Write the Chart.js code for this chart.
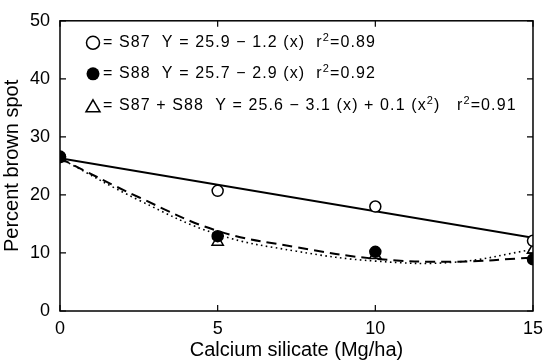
<!DOCTYPE html>
<html>
<head>
<meta charset="utf-8">
<script src="https://cdn.jsdelivr.net/npm/chart.js@4"></script>
<style>
  body { margin: 0; background: #fff; }
  #wrap { width: 550px; height: 364px; }
</style>
</head>
<body>
<div id="wrap"><canvas id="chart"></canvas></div>
<script>
// observed points
const xLevels = [0, 5, 10, 15];
const s87 = [26.5, 20.7, 18.0, 12.1];
const s88 = [26.6, 12.9, 10.2, 8.9];
const pooled = [26.3, 11.9, 9.6, 10.5];

// fitted curves
const s87FitX = [0, 15];
const s87Fit = [26.3, 12.6];
const curveX = [0, 2.5, 5, 7.5, 10, 12.5, 15];
const s88Fit = [26.3, 19.6, 13.8, 11.0, 9.0, 8.5, 9.2];
const pooledFit = [26.3, 19.1, 13.2, 10.3, 8.6, 8.4, 10.6];

const yTicks = [0, 10, 20, 30, 40, 50];
const xTicks = [0, 5, 10, 15];

const legendLines = [
    { sym: 'open', text: '= S87  Y = 25.9 \u2212 1.2 (x)  r', sup: '2', rest: '=0.89' },
    { sym: 'filled', text: '= S88  Y = 25.7 \u2212 2.9 (x)  r', sup: '2', rest: '=0.92' },
    { sym: 'tri', text: '= S87 + S88  Y = 25.6 \u2212 3.1 (x) + 0.1 (x', sup: '2', rest: ')   r', sup2: '2', rest2: '=0.91' }
];

const FONT = '"Liberation Sans", Arial, sans-serif';

const toXY = (xs, ys) => xs.map((x, i) => ({ x: x, y: ys[i] }));

// frame + inward ticks
const framePlugin = {
    id: 'frame',
    afterDatasetsDraw(chart) {
        const { ctx, chartArea: a, scales } = chart;
        ctx.save();
        ctx.strokeStyle = '#000';
        ctx.lineWidth = 1.5;
        ctx.strokeRect(a.left, a.top, a.right - a.left, a.bottom - a.top);
        ctx.lineWidth = 1.2;
        const t = 6;
        yTicks.forEach(v => {
            const y = scales.y.getPixelForValue(v);
            ctx.beginPath();
            ctx.moveTo(a.left, y); ctx.lineTo(a.left + t, y);
            ctx.moveTo(a.right, y); ctx.lineTo(a.right - t, y);
            ctx.stroke();
        });
        xTicks.forEach(v => {
            const x = scales.x.getPixelForValue(v);
            ctx.beginPath();
            ctx.moveTo(x, a.bottom); ctx.lineTo(x, a.bottom - t);
            ctx.moveTo(x, a.top); ctx.lineTo(x, a.top + t);
            ctx.stroke();
        });
        ctx.restore();
    }
};

const legendPlugin = {
    id: 'eqLegend',
    afterDraw(chart) {
        const { ctx, chartArea: a } = chart;
        ctx.save();
        ctx.fillStyle = '#000';
        ctx.strokeStyle = '#000';
        ctx.textBaseline = 'middle';
        ctx.letterSpacing = '1.1px';
        const sx = a.left + 33;
        const rows = [a.top + 22, a.top + 53, a.top + 85];
        legendLines.forEach((ln, i) => {
            const y = rows[i];
            ctx.lineWidth = 1.5;
            ctx.beginPath();
            if (ln.sym === 'tri') {
                ctx.moveTo(sx, y - 6); ctx.lineTo(sx + 7, y + 6); ctx.lineTo(sx - 7, y + 6); ctx.closePath();
                ctx.stroke();
            } else {
                ctx.arc(sx, y, 6.5, 0, Math.PI * 2);
                if (ln.sym === 'filled') ctx.fill(); else ctx.stroke();
            }
            let x = sx + 10;
            const big = '16px ' + FONT, small = '11px ' + FONT;
            const put = (s, f, dy) => {
                ctx.font = f;
                ctx.fillText(s, x, y + dy);
                x += ctx.measureText(s).width;
            };
            put(ln.text, big, 0);
            put(ln.sup, small, -5);
            put(ln.rest, big, 0);
            if (ln.sup2) {
                put(ln.sup2, small, -5);
                put(ln.rest2, big, 0);
            }
        });
        ctx.restore();
    }
};

new Chart(document.getElementById('chart'), {
    type: 'scatter',
    data: {
        datasets: [
            {
                label: 'S88',
                data: toXY(xLevels, s88),
                pointStyle: 'circle', pointRadius: 5.5,
                backgroundColor: '#000', borderColor: '#000', borderWidth: 1.5,
                order: 1
            },
            {
                label: 'S87',
                data: toXY(xLevels, s87),
                pointStyle: 'circle', pointRadius: 5.5,
                backgroundColor: '#fff', borderColor: '#000', borderWidth: 1.5,
                order: 2
            },
            {
                label: 'S87 + S88',
                data: toXY(xLevels, pooled),
                pointStyle: 'triangle', pointRadius: 6.5,
                backgroundColor: '#fff', borderColor: '#000', borderWidth: 1.5,
                order: 3
            },
            {
                label: 'S87 fit',
                type: 'line',
                data: toXY(s87FitX, s87Fit),
                borderColor: '#000', borderWidth: 2, pointRadius: 0,
                order: 4
            },
            {
                label: 'S88 fit',
                type: 'line',
                data: toXY(curveX, s88Fit),
                borderColor: '#000', borderWidth: 2, borderDash: [10, 6],
                pointRadius: 0, tension: 0.4,
                order: 5
            },
            {
                label: 'pooled fit',
                type: 'line',
                data: toXY(curveX, pooledFit),
                borderColor: '#000', borderWidth: 1.6, borderDash: [1.6, 3.4],
                pointRadius: 0, tension: 0.4,
                order: 6
            }
        ]
    },
    options: {
        responsive: true,
        maintainAspectRatio: false,
        animation: false,
        layout: { padding: { left: 0, right: 12, top: 11, bottom: 0 } },
        plugins: { legend: { display: false }, tooltip: { enabled: false } },
        scales: {
            x: {
                type: 'linear', min: 0, max: 15,
                afterFit: s => { s.height = 53; },
                afterBuildTicks: s => { s.ticks = xTicks.map(v => ({ value: v })); },
                grid: { display: false, drawTicks: false },
                border: { display: false },
                ticks: { color: '#000', font: { family: FONT, size: 18 }, padding: 7, maxRotation: 0 },
                title: {
                    display: true, text: 'Calcium silicate (Mg/ha)', color: '#000',
                    font: { family: FONT, size: 20 }, padding: { top: 0, bottom: 2 }
                }
            },
            y: {
                min: 0, max: 50,
                afterFit: s => { s.width = 60; },
                afterBuildTicks: s => { s.ticks = yTicks.map(v => ({ value: v })); },
                grid: { display: false, drawTicks: false },
                border: { display: false },
                ticks: { color: '#000', font: { family: FONT, size: 18 }, padding: 10 },
                title: {
                    display: true, text: 'Percent brown spot', color: '#000',
                    font: { family: FONT, size: 20 }, padding: { top: 0, bottom: 0 }
                }
            }
        }
    },
    plugins: [framePlugin, legendPlugin]
});
</script>
</body>
</html>
